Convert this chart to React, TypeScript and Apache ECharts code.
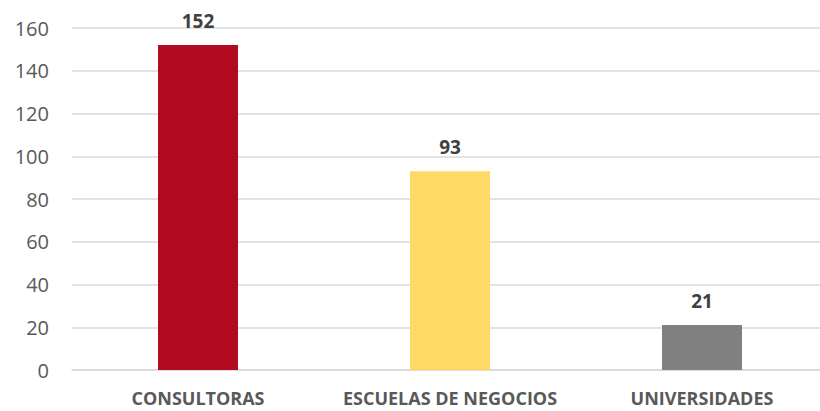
import React, { useEffect, useRef } from "react";
import * as echarts from "echarts";

const categories = ["CONSULTORAS", "ESCUELAS DE NEGOCIOS", "UNIVERSIDADES"];
const values = [152, 93, 21];
const barColors = ["#B20A1E", "#FFD966", "#808080"];
const yTicks = { min: 0, max: 160, interval: 20 };

export default function App() {
  const ref = useRef<HTMLDivElement>(null);
  useEffect(() => {
    if (!ref.current) return;
    const chart = echarts.init(ref.current, null, { renderer: "svg" });
    chart.setOption({
      animation: false,
      backgroundColor: "#ffffff",
      grid: { left: 72, right: 0, top: 28, bottom: 41, containLabel: false },
      xAxis: {
        type: "category",
        data: categories,
        axisLine: { show: true, lineStyle: { color: "#D9D9D9", width: 1.5 } },
        axisTick: { show: false },
        axisLabel: {
          interval: 0,
          hideOverlap: false,
          color: "#595959",
          fontFamily: "Open Sans",
          fontWeight: "bold",
          fontSize: 18,
          margin: 19,
        },
      },
      yAxis: {
        type: "value",
        min: yTicks.min,
        max: yTicks.max,
        interval: yTicks.interval,
        axisLine: { show: false },
        axisTick: { show: false },
        splitLine: { lineStyle: { color: "#D9D9D9", width: 1.5 } },
        axisLabel: {
          color: "#595959",
          fontFamily: "Open Sans",
          fontSize: 20,
          margin: 23,
        },
      },
      series: [
        {
          type: "bar",
          data: values.map((v, i) => ({ value: v, itemStyle: { color: barColors[i] } })),
          barWidth: 80,
          label: {
            show: true,
            position: "top",
            distance: 15,
            color: "#404040",
            fontFamily: "Open Sans",
            fontWeight: "bold",
            fontSize: 19,
          },
        },
      ],
    });
    return () => chart.dispose();
  }, []);
  return (
    <div style={{ position: "fixed", left: 0, top: 0, width: 820, height: 411, overflow: "hidden", background: "#fff" }}>
      <div ref={ref} style={{ width: 828, height: 411 }} />
    </div>
  );
}
